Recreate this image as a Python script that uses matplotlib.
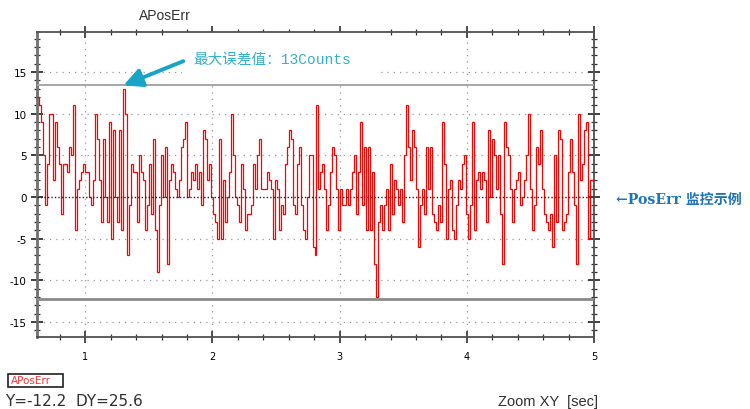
import numpy as np
import matplotlib
matplotlib.use('Agg')
import matplotlib.pyplot as plt
from matplotlib.ticker import MultipleLocator, FixedLocator
from matplotlib.patches import Rectangle

# position error samples (counts), evenly spaced from t_start to t_end
t_start = 0.62
t_end = 5.0
pos_err = [
    12, 11, 9, 5, -1, 4, 10, 10, 2, 9, 6, 4, -2, 4, 4, 3, 6, 5, 11, -4, 1, 2, 3, 4, 3, 3,
    0, -1, 2, 10, 7, 2, -3, 7, 0, -3, 9, -5, 8, 0, -3, 8, -4, 13, 10, -7, -1, 4, 3, 3, -3, 5,
    3, 2, -4, -1, 4, -2, 7, -4, -9, -1, 5, 0, 6, -8, 2, 4, 3, 1, 0, 2, 6, 7, 9, 0, 1,
    3, 2, 4, 1, 3, -1, 8, 7, 2, 4, 0, -2, -3, -5, 7, -5, 2, -3, 0, 3, 10, 5, 0, -1, -3,
    4, 1, -4, -2, -2, -1, 4, 1, 5, 7, 1, 1, 1, 3, 2, 1, -5, 2, 1, -4, -1, -2, 4,
    6, 8, 7, -1, -2, 4, 6, -1, -4, -5, 0, 5, 5, -6, -7, 11, 1, 3, 4, 1, -4, -1,
    3, 6, 5, 1, -4, 1, -1, -1, 1, -1, 1, 3, 5, -2, 3, 9, -1, 6, -4, 6, -4, 3, -8,
    -12, -3, -1, -4, -1, 1, -4, 4, -2, 2, 1, -1, 1, -3, 5, 11, 6, 2, 8, 6, 1, -6,
    -1, 1, -2, 6, 1, 6, -2, -3, -4, -1, -3, 9, 4, -5, 1, 2, -4, -5, -1, 2, 1, 4, 5,
    -2, -5, -1, 9, -4, 2, 3, 1, 3, 2, -3, 8, 0, 7, 5, 1, 5, -2, -8, 9, 6, 5,
    1, -3, 1, 2, 3, -1, 0, 2, 5, 10, 1, -4, -1, 6, 4, 8, 1, -2, -3, -4, -2,
    -6, 5, -3, 8, 7, -4, -3, -2, 3, 7, 3, -1, -8, 10, 2, 4, 8, 9, -5, 2, 2,
]
cursor_top = 13.4
cursor_bottom = -12.2
peak_t = 1.30
x_major = [1, 2, 3, 4, 5]
y_major = [-15, -10, -5, 0, 5, 10, 15]
y_lim = (-16.8, 19.8)

title = 'APosErr'
note = '最大误差值：13Counts'
side_note = '←PosErr 监控示例'
unit_text = 'Zoom XY  [sec]'

fig = plt.figure(figsize=(7.5, 4.1), dpi=100)
ax = fig.add_axes([37 / 750, 1 - 338 / 410, 557 / 750, 305 / 410])

edges = np.linspace(t_start, t_end, len(pos_err) + 1)
ax.stairs(pos_err, edges, baseline=None, color='#ff0000', lw=0.9, zorder=3)

ax.set_xlim(t_start, t_end)
ax.set_ylim(*y_lim)

# cursors
ax.axhline(cursor_top, color='#a6a6a6', lw=1.4, zorder=4)
ax.axhline(cursor_bottom, color='#8a8a8a', lw=2.0, zorder=4)

# grid
for x in x_major[:-1]:
    ax.axvline(x, color='#9a9a9a', lw=0.9, ls=(0, (1, 4)), zorder=1)
for y in y_major:
    if y == 0:
        ax.axhline(0, color='#202020', lw=1.0, ls=(0, (1, 1.5)), zorder=5)
    else:
        ax.axhline(y, color='#9a9a9a', lw=0.9, ls=(0, (1, 4)), zorder=1)

# white patch behind the note (hides grid there)
ax.add_patch(Rectangle((1.76, 13.9), 1.565, 6.0, facecolor='white',
                       edgecolor='none', zorder=2))

ax.xaxis.set_major_locator(FixedLocator(x_major))
ax.xaxis.set_minor_locator(MultipleLocator(0.2))
ax.yaxis.set_major_locator(FixedLocator(y_major))
ax.yaxis.set_minor_locator(MultipleLocator(1))

ax.tick_params(axis='x', which='major', direction='inout', length=8, width=1.2,
               top=True, labelsize=7, pad=6, color='#303030')
ax.tick_params(axis='x', which='minor', direction='inout', length=4, width=0.9,
               top=True, color='#303030')
ax.tick_params(axis='y', which='major', direction='inout', length=9, width=1.3,
               right=True, labelsize=7.5, pad=3, color='#303030')
ax.tick_params(axis='y', which='minor', direction='inout', length=5, width=0.9,
               right=True, color='#303030')
ax.set_xticklabels([str(v) for v in x_major])
ax.set_yticklabels([str(v) for v in y_major])

for side in ['top', 'bottom', 'right']:
    ax.spines[side].set_color('#505050')
    ax.spines[side].set_linewidth(1.3)
ax.spines['left'].set_color('#707070')
ax.spines['left'].set_linewidth(2.0)

# peak annotation
ax.annotate('', xy=(peak_t, cursor_top), xytext=(1.77, 16.3),
            arrowprops=dict(arrowstyle='-|>', color='#18a4c6', lw=2.8,
                            mutation_scale=28, shrinkA=0, shrinkB=0), zorder=6)
ax.text(1.845, 16.6, note, color='#34b0c9', fontsize=10.5, ha='left', va='center',
        family=['Liberation Mono', 'Noto Sans CJK SC'], zorder=6)

fig.text(165 / 750, 1 - 16 / 410, title, ha='center', va='center', fontsize=10,
         color='#303030', family='Liberation Sans')
fig.text(616 / 750, 1 - 200 / 410, side_note, ha='left', va='center', fontsize=10.1,
         color='#1f73bb', fontweight='bold',
         family=['DejaVu Serif', 'Noto Sans CJK SC'])

# legend tag and readout
fig.patches.append(Rectangle((8 / 750, 1 - 388 / 410), 55 / 750, 13 / 410,
                             transform=fig.transFigure, facecolor='white',
                             edgecolor='#202020', lw=1.2))
fig.text(11 / 750, 1 - 381.5 / 410, title, ha='left', va='center', fontsize=7.5,
         color='#ff3030', family='Liberation Sans Narrow')
fig.text(5 / 750, 1 - 402 / 410,
         'Y=%.1f  DY=%.1f' % (cursor_bottom, cursor_top - cursor_bottom),
         ha='left', va='center', fontsize=11, color='#303030', family='DejaVu Sans')
fig.text(598 / 750, 1 - 402 / 410, unit_text, ha='right', va='center', fontsize=10.5,
         color='#303030', family='Liberation Sans')

fig.savefig('out.png', dpi=100)
